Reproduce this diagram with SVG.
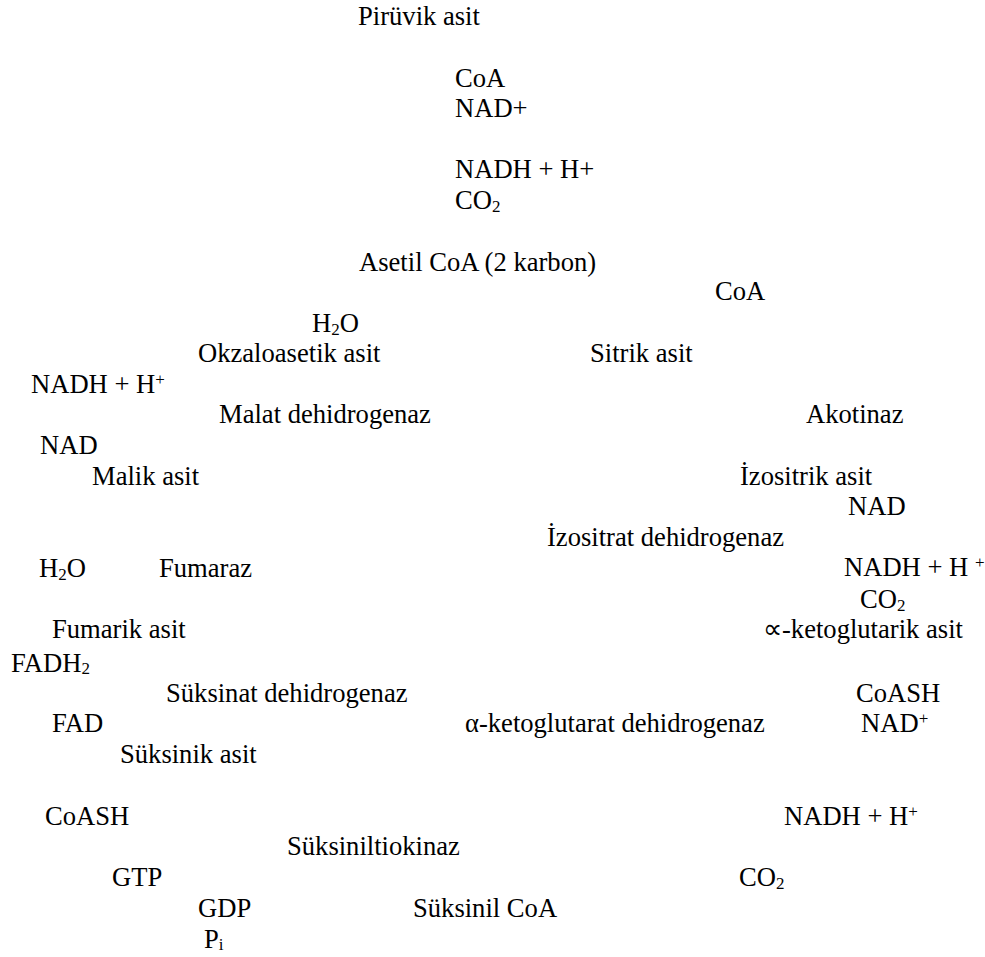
<svg xmlns="http://www.w3.org/2000/svg" width="985" height="957" viewBox="0 0 985 957">
<style>
text{font-family:"Liberation Serif","Times New Roman",serif;font-size:26.6px;fill:#000}
.sub{font-size:17px}
.sup{font-size:17px}
</style>
<rect width="985" height="957" fill="#fff"/>
<g id="piruvik"><text x="358" y="25">Pirüvik asit</text></g>
<g id="coa1"><text x="455" y="87">CoA</text></g>
<g id="nad1"><text x="455" y="117">NAD+</text></g>
<g id="nadh1"><text x="455" y="178">NADH + H+</text></g>
<g id="co2a"><text x="455" y="209">CO<tspan class="sub" dy="3">2</tspan></text></g>
<g id="asetil"><text x="359" y="271">Asetil CoA (2 karbon)</text></g>
<g id="coa2"><text x="715" y="300">CoA</text></g>
<g id="h2o1"><text x="312" y="332">H<tspan class="sub" dy="3">2</tspan><tspan dy="-3">O</tspan></text></g>
<g id="okzalo"><text x="198" y="362">Okzaloasetik asit</text></g>
<g id="sitrik"><text x="590" y="362">Sitrik asit</text></g>
<g id="nadh2"><text x="31" y="393">NADH + H<tspan class="sup" dy="-8">+</tspan></text></g>
<g id="malatdh"><text x="219" y="423">Malat dehidrogenaz</text></g>
<g id="akotinaz"><text x="806" y="423">Akotinaz</text></g>
<g id="nad2"><text x="40" y="454">NAD</text></g>
<g id="malik"><text x="92" y="485">Malik asit</text></g>
<g id="izositrik"><text x="740" y="485">İzositrik asit</text></g>
<g id="nad3"><text x="848" y="515">NAD</text></g>
<g id="izositratdh"><text x="547" y="546">İzositrat dehidrogenaz</text></g>
<g id="h2o2"><text x="39" y="577">H<tspan class="sub" dy="3">2</tspan><tspan dy="-3">O</tspan></text></g>
<g id="fumaraz"><text x="159" y="577">Fumaraz</text></g>
<g id="nadh3"><text x="844" y="576">NADH + H <tspan class="sup" dy="-8">+</tspan></text></g>
<g id="co2b"><text x="860" y="608">CO<tspan class="sub" dy="3">2</tspan></text></g>
<g id="fumarik"><text x="52" y="638">Fumarik asit</text></g>
<g id="ketoglutarik"><text x="763" y="638">∝-ketoglutarik asit</text></g>
<g id="fadh2"><text x="11" y="672">FADH<tspan class="sub" dy="2">2</tspan></text></g>
<g id="suksinatdh"><text x="166" y="702">Süksinat dehidrogenaz</text></g>
<g id="coash1"><text x="856" y="702">CoASH</text></g>
<g id="fad"><text x="52" y="732">FAD</text></g>
<g id="ketoglutaratdh"><text x="465" y="732">α-ketoglutarat dehidrogenaz</text></g>
<g id="nadplus"><text x="861" y="732">NAD<tspan class="sup" dy="-8">+</tspan></text></g>
<g id="suksinik"><text x="120" y="763">Süksinik asit</text></g>
<g id="coash2"><text x="45" y="825">CoASH</text></g>
<g id="nadh4"><text x="784" y="825">NADH + H<tspan class="sup" dy="-8">+</tspan></text></g>
<g id="suksiniltiokinaz"><text x="287" y="855">Süksiniltiokinaz</text></g>
<g id="gtp"><text x="112" y="886">GTP</text></g>
<g id="co2c"><text x="739" y="886">CO<tspan class="sub" dy="3">2</tspan></text></g>
<g id="gdp"><text x="198" y="917">GDP</text></g>
<g id="suksinilcoa"><text x="413" y="917">Süksinil CoA</text></g>
<g id="pi"><text x="204" y="948">P<tspan class="sub" dy="2">i</tspan></text></g>
<g id="connectors"></g>
</svg>
